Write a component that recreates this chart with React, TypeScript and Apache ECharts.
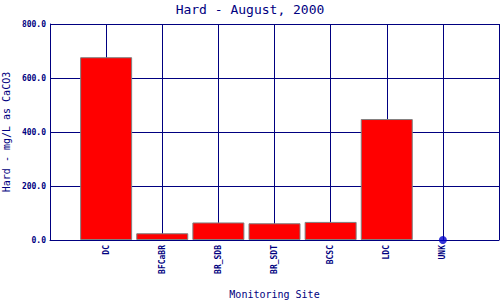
import React, { useEffect, useRef } from "react";
import * as echarts from "echarts";

const titleText = "Hard - August, 2000";
const yAxisName = "Hard - mg/L as CaCO3";
const xAxisName = "Monitoring Site";
const sites = ["DC", "BFCaBR", "BR_SDB", "BR_SDT", "BCSC", "LDC", "UNK"];
const values = [677, 25, 65, 62, 67, 448, 0];
const yTicks = [0, 200, 400, 600, 800];

const NAVY = "#000080";
const FONT = "DejaVu Sans Mono, Liberation Mono, monospace";

export default function App() {
  const ref = useRef<HTMLDivElement>(null);
  useEffect(() => {
    if (!ref.current) return;
    const chart = echarts.init(ref.current, null, { renderer: "svg" });
    const cats = ["", ...sites, ""];
    const barData = ["-", ...values.map((v) => (v > 0 ? v : "-")), "-"];
    const dotData: any[] = [];
    values.forEach((v, i) => {
      if (v === 0) dotData.push([i + 1, v]);
    });
    chart.setOption({
      animation: false,
      backgroundColor: "#ffffff",
      title: {
        text: titleText,
        left: "center",
        top: -2,
        textStyle: { color: NAVY, fontFamily: FONT, fontSize: 13, fontWeight: "normal" },
      },
      grid: {
        left: 50,
        right: 1,
        top: 24,
        bottom: 60,
        containLabel: false,
        outerBoundsMode: "none",
      },
      xAxis: {
        type: "category",
        data: cats,
        boundaryGap: false,
        name: xAxisName,
        nameLocation: "middle",
        nameGap: 49,
        nameTextStyle: { color: NAVY, fontFamily: FONT, fontSize: 10 },
        axisLine: { lineStyle: { color: NAVY, width: 1 } },
        axisTick: { show: false },
        axisLabel: {
          interval: 0,
          rotate: 90,
          margin: 5,
          color: NAVY,
          fontFamily: FONT,
          fontSize: 8,
          fontWeight: "bold",
        },
        splitLine: { show: true, interval: 0, lineStyle: { color: NAVY, width: 1 } },
      },
      yAxis: {
        type: "value",
        min: yTicks[0],
        max: yTicks[yTicks.length - 1],
        interval: 200,
        name: yAxisName,
        nameLocation: "middle",
        nameGap: 38,
        nameTextStyle: { color: NAVY, fontFamily: FONT, fontSize: 10 },
        axisLine: { show: true, lineStyle: { color: NAVY, width: 1 } },
        axisTick: { show: false },
        axisLabel: {
          margin: 4,
          color: NAVY,
          fontFamily: FONT,
          fontSize: 8,
          fontWeight: "bold",
          formatter: (v: number) => v.toFixed(1),
        },
        splitLine: { show: true, lineStyle: { color: NAVY, width: 1 } },
      },
      series: [
        {
          type: "bar",
          data: barData,
          barWidth: 52,
          itemStyle: { color: "#ff0000", borderColor: "#808080", borderWidth: 1 },
          z: 3,
        },
        {
          type: "scatter",
          data: dotData,
          symbol: "circle",
          symbolSize: 8,
          itemStyle: { color: "#0000cc" },
          z: 4,
        },
      ],
    });
    return () => chart.dispose();
  }, []);
  return <div ref={ref} style={{ width: 500, height: 300, position: "absolute", left: 0, top: 0 }} />;
}
